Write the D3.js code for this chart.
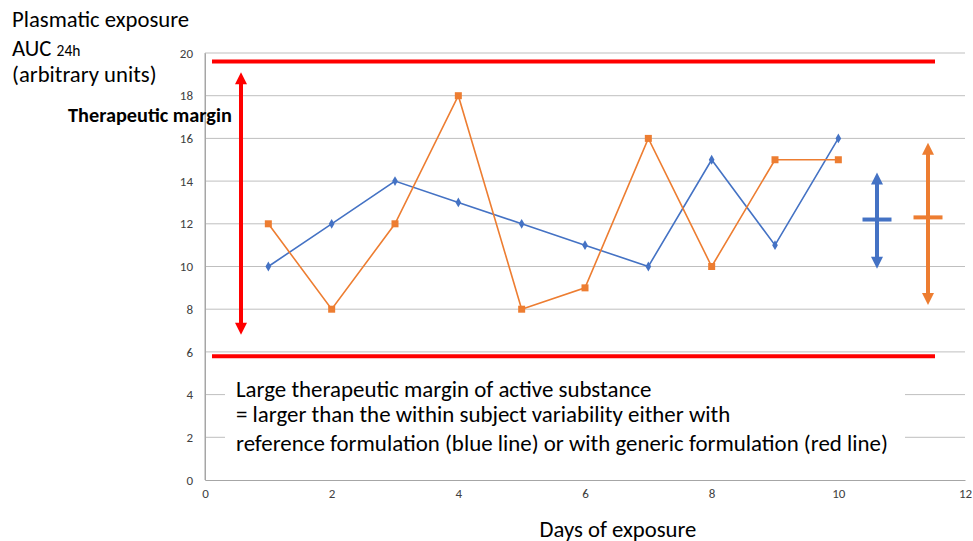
<!DOCTYPE html>
<html><head><meta charset="utf-8">
<script src="https://cdn.jsdelivr.net/npm/d3@7"></script>
<style>body{margin:0;background:#fff;font-family:Calibri,Carlito,"Open Sans",sans-serif;}</style>
</head><body>
<svg id="c" width="973" height="541"></svg>
<script>
const days = [1,2,3,4,5,6,7,8,9,10];
const reference = [10,12,14,13,12,11,10,15,11,16];
const generic = [12,8,12,18,8,9,16,10,15,15];
const yTicks = [0,2,4,6,8,10,12,14,16,18,20];
const xTicks = [0,2,4,6,8,10,12];
const marginLimits = [19.6, 5.8];
const marginArrow = [19.1, 6.8];
const refRange = [14.4, 9.9, 12.2];
const genRange = [15.8, 8.2, 12.3];
const noteLines = ["Large therapeutic margin of active substance",
  "= larger than the within subject variability either with",
  "reference formulation (blue line) or with generic formulation (red line)"];

const svg = d3.select("#c");
const font = "Calibri, Carlito, 'Open Sans', sans-serif";
const x = d3.scaleLinear().domain([0,12]).range([205,965]);
const y = d3.scaleLinear().domain([0,20]).range([480,53]);
const blue = "#4472c4", orange = "#ed7d31", red = "#ff0000";

// gridlines
svg.append("g").selectAll("line").data(yTicks.filter(d=>d>0)).join("line")
  .attr("x1",x(0)).attr("x2",x(12)).attr("y1",d=>y(d)).attr("y2",d=>y(d))
  .attr("stroke","#bfbfbf").attr("stroke-width",1);

// axes
const ya = svg.append("g").attr("transform",`translate(${x(0)},0)`)
  .call(d3.axisLeft(y).tickValues(yTicks).tickSize(0).tickPadding(12));
const xa = svg.append("g").attr("transform",`translate(0,${y(0)})`)
  .call(d3.axisBottom(x).tickValues(xTicks).tickSize(0).tickPadding(9));
[ya,xa].forEach(a=>{
  a.select(".domain").attr("stroke","#a6a6a6");
  a.selectAll("text").attr("font-family",font).attr("font-size",13).attr("fill","#404040");
});
svg.append("line").attr("x1",x(0)).attr("x2",x(0)).attr("y1",y(20)).attr("y2",y(0)).attr("stroke","#a6a6a6");

// markers defs
const defs = svg.append("defs");
function arrowMarker(id,color,w,h){
  defs.append("marker").attr("id",id).attr("viewBox","0 0 10 10").attr("refX",5).attr("refY",5)
    .attr("markerWidth",w).attr("markerHeight",h).attr("orient","auto-start-reverse")
    .attr("markerUnits","userSpaceOnUse")
    .append("path").attr("d","M0,0 L10,5 L0,10 Z").attr("fill",color);
}
arrowMarker("ar",red,14,12);
arrowMarker("ab",blue,14,12);
arrowMarker("ao",orange,14,12);

// series lines
const line = d3.line().x((d,i)=>x(days[i])).y(d=>y(d));
svg.append("path").datum(reference).attr("d",line).attr("fill","none").attr("stroke",blue).attr("stroke-width",1.6);
svg.append("path").datum(generic).attr("d",line).attr("fill","none").attr("stroke",orange).attr("stroke-width",1.6);
svg.append("g").selectAll("path").data(reference).join("path")
  .attr("transform",(d,i)=>`translate(${x(days[i])},${y(d)})`)
  .attr("d",d3.symbol(d3.symbolDiamond,28)).attr("fill",blue);
svg.append("g").selectAll("rect").data(generic).join("rect")
  .attr("x",(d,i)=>x(days[i])-3.5).attr("y",d=>y(d)-3.5).attr("width",7).attr("height",7).attr("fill",orange);

// white note box
svg.append("rect").attr("x",225).attr("y",366).attr("width",680).attr("height",104).attr("fill","#fff");

// red margin lines
svg.append("g").selectAll("line").data(marginLimits).join("line")
  .attr("x1",212).attr("x2",935).attr("y1",d=>y(d)).attr("y2",d=>y(d))
  .attr("stroke",red).attr("stroke-width",4);

// red double arrow
svg.append("line").attr("x1",241).attr("x2",241).attr("y1",y(marginArrow[0])+6).attr("y2",y(marginArrow[1])-6)
  .attr("stroke",red).attr("stroke-width",4)
  .attr("marker-start","url(#ar)").attr("marker-end","url(#ar)");

// variability arrows
function varArrow(cx,r,color,mid){
  svg.append("line").attr("x1",cx).attr("x2",cx).attr("y1",y(r[0])+6).attr("y2",y(r[1])-6)
    .attr("stroke",color).attr("stroke-width",4)
    .attr("marker-start",`url(#${mid})`).attr("marker-end",`url(#${mid})`);
  svg.append("line").attr("x1",cx-14.5).attr("x2",cx+14.5).attr("y1",y(r[2])).attr("y2",y(r[2]))
    .attr("stroke",color).attr("stroke-width",4);
}
varArrow(877,refRange,blue,"ab");
varArrow(928,genRange,orange,"ao");

// texts
const t = (s,xx,yy,size,weight,anchor)=>svg.append("text").attr("x",xx).attr("y",yy)
  .attr("font-family",font).attr("font-size",size).attr("font-weight",weight||"normal")
  .attr("text-anchor",anchor||"start").attr("fill","#000").text(s);
t("Plasmatic exposure",12,27,22.7);
const auc = t("AUC ",12,56,22.7);
auc.append("tspan").attr("font-size",15.5).text("24h");
t("(arbitrary units)",12,82,22.7);
t("Therapeutic margin",68,122,20.3,"bold");
t("Days of exposure",618,537,22.7,"normal","middle");
noteLines.forEach((s,i)=>t(s,236,[397,422,451][i],22.9));
</script>
</body></html>
